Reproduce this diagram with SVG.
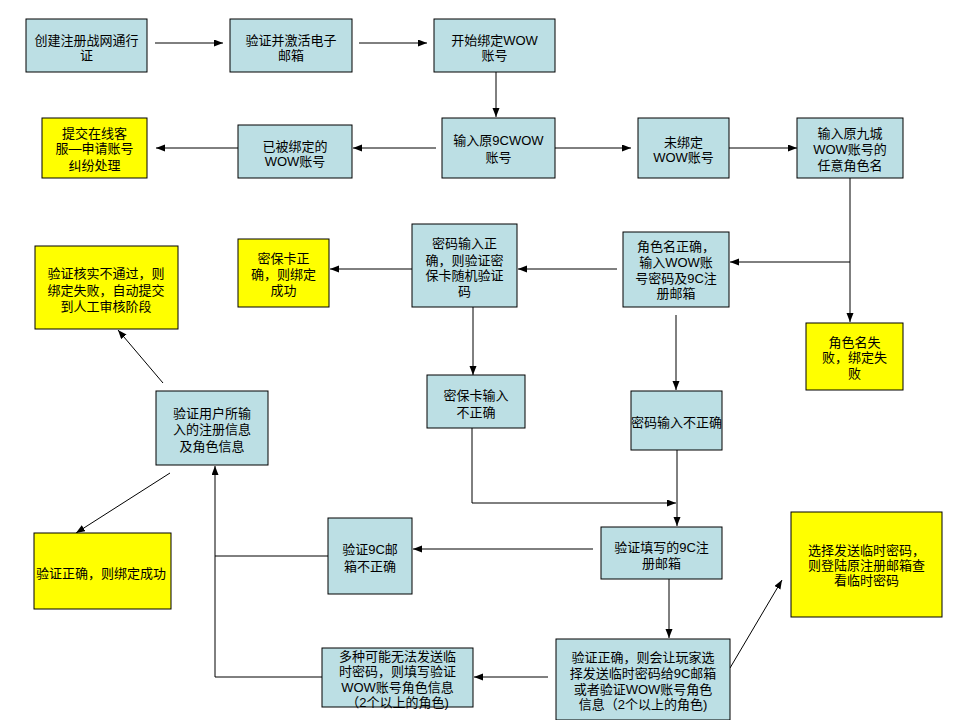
<svg xmlns="http://www.w3.org/2000/svg" width="960" height="720" viewBox="0 0 960 720">
<style>
.b{fill:#BCDFE4;stroke:#000;stroke-width:1}
.y{fill:#FFFF00;stroke:#000;stroke-width:1}
text{font-family:"Liberation Sans","Noto Sans CJK SC",sans-serif;font-size:13px;fill:#000;text-anchor:middle}
.c line,.c polyline{stroke:#000;stroke-width:1;fill:none}
.a{marker-end:url(#ah)}
</style>
<defs>
<marker id="ah" markerUnits="userSpaceOnUse" markerWidth="10" markerHeight="8" refX="9" refY="3.5" orient="auto">
<path d="M0,0 L9,3.5 L0,7 z" fill="#000"/>
</marker>
</defs>
<rect width="960" height="720" fill="#fff"/>
<g class="c" id="connectors">
<line class="a" x1="155" y1="43" x2="223" y2="43"/>
<line class="a" x1="359" y1="43" x2="427" y2="43"/>
<line class="a" x1="496" y1="72" x2="496" y2="117"/>
<line class="a" x1="436" y1="148" x2="353" y2="148"/>
<line class="a" x1="238" y1="148" x2="156" y2="148"/>
<line class="a" x1="555" y1="148" x2="631" y2="148"/>
<line class="a" x1="729" y1="148" x2="797" y2="148"/>
<line class="a" x1="850" y1="178" x2="850" y2="322"/>
<line class="a" x1="850" y1="262" x2="730" y2="262"/>
<line class="a" x1="617" y1="269" x2="518" y2="269"/>
<line class="a" x1="412" y1="269" x2="330" y2="269"/>
<line class="a" x1="473" y1="307" x2="473" y2="375"/>
<line class="a" x1="676" y1="315" x2="676" y2="390"/>
<polyline class="a" points="472,428 472,503 676,503"/>
<line class="a" x1="677" y1="450" x2="677" y2="526"/>
<line class="a" x1="593" y1="549" x2="413" y2="549"/>
<line class="a" x1="669" y1="579" x2="669" y2="638"/>
<line class="a" x1="548" y1="677" x2="474" y2="677"/>
<polyline class="a" points="322,677 215,677 215,466"/>
<line x1="328" y1="556" x2="215" y2="556"/>
<line class="a" x1="170" y1="473" x2="76" y2="533"/>
<line class="a" x1="163" y1="383" x2="118" y2="330"/>
<line class="a" x1="730" y1="668" x2="782" y2="580"/>
</g>
<g id="n1"><rect class="b" x="26" y="19" width="121" height="53"/><text x="86.5" y="45">创建注册战网通行</text><text x="86.5" y="60">证</text></g>
<g id="n2"><rect class="b" x="230" y="19" width="122" height="53"/><text x="291" y="45">验证并激活电子</text><text x="291" y="60">邮箱</text></g>
<g id="n3"><rect class="b" x="434" y="19" width="121" height="53"/><text x="494.5" y="45">开始绑定WOW</text><text x="494.5" y="60">账号</text></g>
<g id="n4"><rect class="b" x="442" y="118" width="113" height="60"/><text x="498.5" y="145">输入原9CWOW</text><text x="498.5" y="162">账号</text></g>
<g id="n5"><rect class="b" x="238" y="125" width="114" height="53"/><text x="295" y="151">已被绑定的</text><text x="295" y="166">WOW账号</text></g>
<g id="n6"><rect class="y" x="42" y="118" width="105" height="60"/><text x="94.5" y="138">提交在线客</text><text x="94.5" y="153">服—申请账号</text><text x="94.5" y="170">纠纷处理</text></g>
<g id="n7"><rect class="b" x="638" y="118" width="91" height="60"/><text x="683.5" y="146.5">未绑定</text><text x="683.5" y="161.5">WOW账号</text></g>
<g id="n8"><rect class="b" x="797" y="118" width="106" height="60"/><text x="850" y="138">输入原九城</text><text x="850" y="154">WOW账号的</text><text x="850" y="170">任意角色名</text></g>
<g id="n9"><rect class="b" x="623" y="232" width="106" height="75"/><text x="676" y="251">角色名正确，</text><text x="676" y="267">输入WOW账</text><text x="676" y="283">号密码及9C注</text><text x="676" y="298">册邮箱</text></g>
<g id="n10"><rect class="b" x="412" y="224" width="105" height="83"/><text x="464.5" y="248">密码输入正</text><text x="464.5" y="265">确，则验证密</text><text x="464.5" y="280">保卡随机验证</text><text x="464.5" y="296">码</text></g>
<g id="n11"><rect class="y" x="238" y="239" width="91" height="68"/><text x="283.5" y="263">密保卡正</text><text x="283.5" y="279">确，则绑定</text><text x="283.5" y="295">成功</text></g>
<g id="n12"><rect class="y" x="35" y="246" width="143" height="83"/><text x="106" y="278">验证核实不通过，则</text><text x="106" y="295">绑定失败，自动提交</text><text x="106" y="311">到人工审核阶段</text></g>
<g id="n13"><rect class="y" x="806" y="323" width="97" height="67"/><text x="854.5" y="347">角色名失</text><text x="854.5" y="362">败，绑定失</text><text x="854.5" y="378">败</text></g>
<g id="n14"><rect class="b" x="427" y="375" width="98" height="53"/><text x="476" y="400">密保卡输入</text><text x="476" y="417">不正确</text></g>
<g id="n15"><rect class="b" x="631" y="391" width="91" height="59"/><text x="676.5" y="427">密码输入不正确</text></g>
<g id="n16"><rect class="b" x="156" y="391" width="112" height="74"/><text x="212" y="418">验证用户所输</text><text x="212" y="434">入的注册信息</text><text x="212" y="451">及角色信息</text></g>
<g id="n17"><rect class="y" x="34" y="533" width="137" height="76"/><text x="101" y="578">验证正确，则绑定成功</text></g>
<g id="n18"><rect class="b" x="328" y="518" width="84" height="76"/><text x="370" y="554">验证9C邮</text><text x="370" y="571">箱不正确</text></g>
<g id="n19"><rect class="b" x="601" y="527" width="121" height="52"/><text x="661.5" y="552">验证填写的9C注</text><text x="661.5" y="568">册邮箱</text></g>
<g id="n20"><rect class="y" x="791" y="512" width="151" height="105"/><text x="866.5" y="555">选择发送临时密码，</text><text x="866.5" y="570">则登陆原注册邮箱查</text><text x="866.5" y="585">看临时密码</text></g>
<g id="n21"><rect class="b" x="556" y="639" width="174" height="81"/><text x="643" y="662">验证正确，则会让玩家选</text><text x="643" y="678">择发送临时密码给9C邮箱</text><text x="643" y="694">或者验证WOW账号角色</text><text x="643" y="709">信息（2个以上的角色)</text></g>
<g id="n22"><rect class="b" x="322" y="648" width="151" height="59"/><text x="397.5" y="661">多种可能无法发送临</text><text x="397.5" y="676">时密码，则填写验证</text><text x="397.5" y="692">WOW账号角色信息</text><text x="397.5" y="707">（2个以上的角色)</text></g>
</svg>
